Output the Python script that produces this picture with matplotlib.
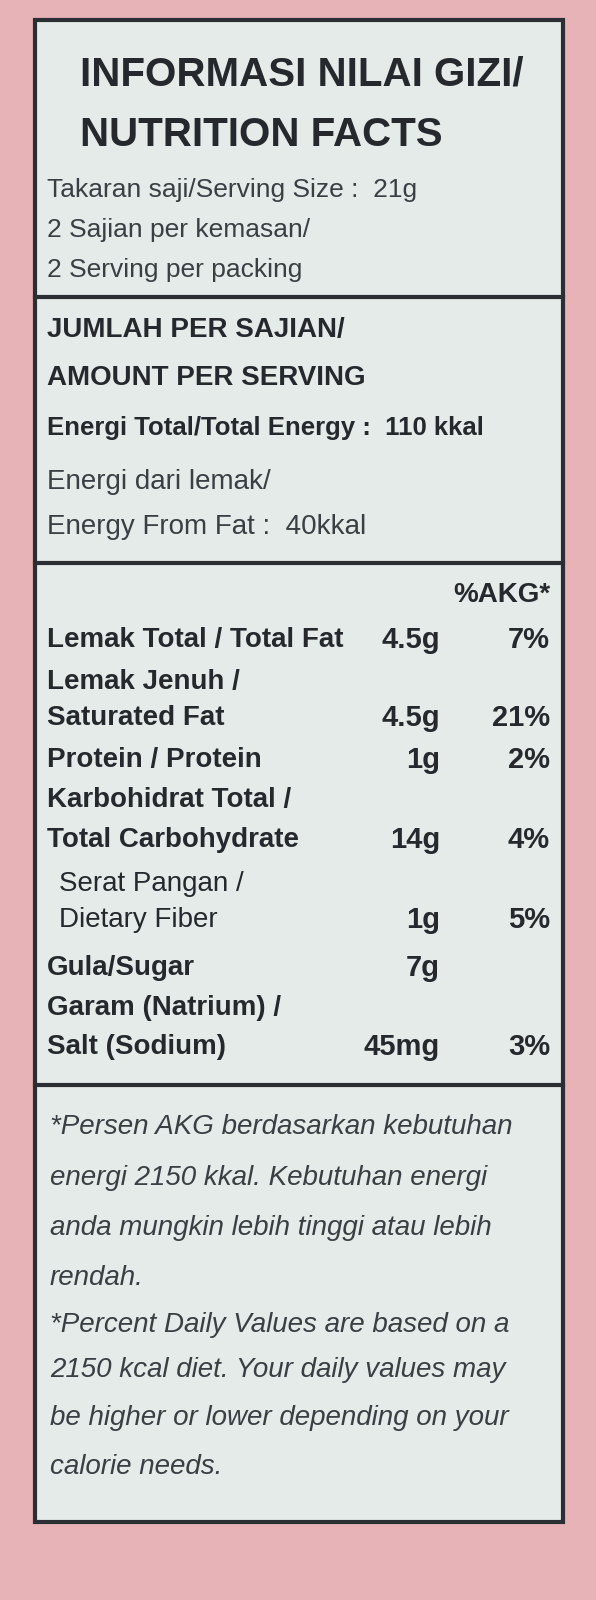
import matplotlib as mpl
mpl.use('Agg')
import matplotlib.pyplot as plt
from matplotlib.patches import Rectangle

plt.rcParams['font.family'] = ['Liberation Sans Narrow', 'Liberation Sans', 'DejaVu Sans']

title_lines = ["INFORMASI NILAI GIZI/", "NUTRITION FACTS"]
serving_lines = ["Takaran saji/Serving Size :  21g", "2 Sajian per kemasan/", "2 Serving per packing"]
amount_head = ["JUMLAH PER SAJIAN/", "AMOUNT PER SERVING", "Energi Total/Total Energy :  110 kkal"]
fat_energy = ["Energi dari lemak/", "Energy From Fat :  40kkal"]

# nutrient rows: label, amount, %AKG, indent
rows = [
    ("Lemak Total / Total Fat", "4.5g", "7%", 0),
    ("Lemak Jenuh /", "", "", 0),
    ("Saturated Fat", "4.5g", "21%", 0),
    ("Protein / Protein", "1g", "2%", 0),
    ("Karbohidrat Total /", "", "", 0),
    ("Total Carbohydrate", "14g", "4%", 0),
    ("Serat Pangan /", "", "", 1),
    ("Dietary Fiber", "1g", "5%", 1),
    ("Gula/Sugar", "7g", "", 0),
    ("Garam (Natrium) /", "", "", 0),
    ("Salt (Sodium)", "45mg", "3%", 0),
]
row_y = [640, 682, 718, 760, 800, 840, 884, 920, 968, 1008, 1047]

footnote = [
    "*Persen AKG berdasarkan kebutuhan",
    "energi 2150 kkal. Kebutuhan energi",
    "anda mungkin lebih tinggi atau lebih",
    "rendah.",
    "*Percent Daily Values are based on a",
    "2150 kcal diet. Your daily values may",
    "be higher or lower depending on your",
    "calorie needs.",
]
foot_y = [1127, 1178, 1228, 1278, 1325, 1370, 1418, 1467]

fig = plt.figure(figsize=(5.96, 16), dpi=100)
fig.patch.set_facecolor('#e7b3b6')
ax = fig.add_axes([0, 0, 1, 1])
ax.set_xlim(0, 596)
ax.set_ylim(1600, 0)
ax.axis('off')

ax.add_patch(Rectangle((35, 20), 528, 1502, facecolor='#e4ebe8', edgecolor='#2b2f33', lw=3))
for y in [297, 563, 1085]:
    ax.plot([35, 563], [y, y], color='#2b2f33', lw=3)

ink = '#25292d'
for t, y in zip(title_lines, [75, 135]):
    ax.text(80, y, t, fontsize=29, fontweight='bold', color=ink, va='center')
for t, y in zip(serving_lines, [190, 230, 270]):
    ax.text(47, y, t, fontsize=19, color='#3a3f44', va='center')
ax.text(47, 330, amount_head[0], fontsize=20, fontweight='bold', color=ink, va='center')
ax.text(47, 378, amount_head[1], fontsize=20, fontweight='bold', color=ink, va='center')
ax.text(47, 428, amount_head[2], fontsize=18.5, fontweight='bold', color=ink, va='center')
for t, y in zip(fat_energy, [482, 527]):
    ax.text(47, y, t, fontsize=20, color='#3a3f44', va='center')

ax.text(550, 595, "%AKG*", fontsize=20, fontweight='bold', color=ink, va='center', ha='right')
for (lab, amt, pct, ind), y in zip(rows, row_y):
    w = 'normal' if ind else 'bold'
    ax.text(47 + 12 * ind, y, lab, fontsize=20, fontweight=w, color=ink, va='center')
    ax.text(440, y, amt, fontsize=21, fontweight='bold', color=ink, va='center', ha='right')
    ax.text(550, y, pct, fontsize=21, fontweight='bold', color=ink, va='center', ha='right')

for t, y in zip(footnote, foot_y):
    ax.text(50, y, t, fontsize=20, style='italic', color='#3a3f44', va='center')

fig.savefig('out.png', dpi=100, facecolor=fig.get_facecolor())
